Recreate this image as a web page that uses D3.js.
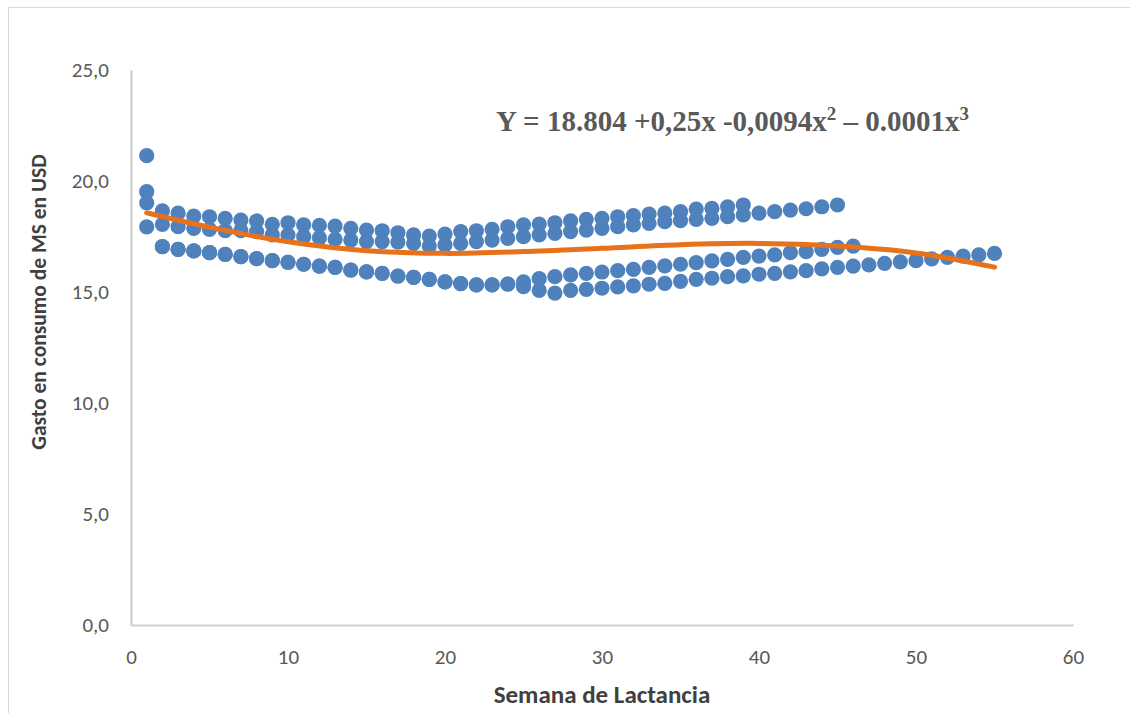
<!DOCTYPE html>
<html>
<head>
<meta charset="utf-8">
<script src="https://cdn.jsdelivr.net/npm/d3@7/dist/d3.min.js"></script>
<style>
  html, body { margin: 0; padding: 0; background: #fff; }
  svg { display: block; }
</style>
</head>
<body>
<svg id="chart" width="1130" height="713"></svg>
<script>
// ---- Data ----
const semanas = [1,2,3,4,5,6,7,8,9,10,11,12,13,14,15,16,17,18,19,20,21,22,23,24,25,26,27,28,29,30,31,32,33,34,35,36,37,38,39,40,41,42,43,44,45,46,47,48,49,50,51,52,53,54,55];

const serieA = [19.52,18.65,18.55,18.42,18.39,18.32,18.24,18.20,18.05,18.12,18.02,18.00,17.97,17.87,17.79,17.76,17.67,17.57,17.52,17.61,17.72,17.76,17.82,17.94,18.02,18.06,18.12,18.20,18.27,18.32,18.39,18.44,18.51,18.55,18.62,18.73,18.77,18.84,18.92];

const serieB = [19.02,18.05,17.94,17.87,17.82,17.76,17.76,17.72,17.57,17.57,17.49,17.44,17.37,17.34,17.27,17.27,17.25,17.19,17.07,17.12,17.19,17.27,17.34,17.42,17.49,17.57,17.64,17.72,17.79,17.87,17.94,18.02,18.09,18.17,18.21,18.27,18.32,18.39,18.47,18.55,18.62,18.69,18.75,18.84,18.92];

const serieC = [21.14,17.04,16.92,16.85,16.77,16.70,16.59,16.50,16.41,16.34,16.25,16.17,16.11,15.99,15.91,15.84,15.72,15.66,15.57,15.46,15.38,15.32,15.32,15.36,15.46,15.60,15.69,15.77,15.84,15.90,15.96,16.02,16.11,16.18,16.25,16.32,16.40,16.47,16.56,16.62,16.67,16.77,16.82,16.92,17.01,17.07];

const serieD = [17.93,17.04,16.92,16.85,16.77,16.70,16.59,16.50,16.41,16.34,16.25,16.17,16.11,15.99,15.91,15.84,15.72,15.66,15.57,15.46,15.38,15.32,15.32,15.36,15.24,15.07,14.95,15.07,15.12,15.17,15.23,15.28,15.35,15.39,15.48,15.57,15.62,15.69,15.73,15.80,15.84,15.91,15.96,16.04,16.11,16.17,16.22,16.29,16.36,16.41,16.49,16.56,16.62,16.67,16.74];

// Polynomial trend line as drawn in the picture (sampled points)
const tendenciaSemanas = [1,5,10,15,20,25,30,35,40,45,50,55];
const tendenciaValores = [18.57,17.92,17.26,16.86,16.74,16.82,16.97,17.13,17.19,17.07,16.76,16.12];

const xTicks = [0,10,20,30,40,50,60];
const yTicks = [0,5,10,15,20,25];

const tituloX = "Semana de Lactancia";
const tituloY = "Gasto en consumo de MS en USD";

// ---- Chart ----
const svg = d3.select("#chart");
const x = d3.scaleLinear().domain([0, 60]).range([131, 1073]);
const y = d3.scaleLinear().domain([0, 25]).range([625, 70]);

// outer chart border
svg.append("rect")
  .attr("x", 8.5).attr("y", 7.5)
  .attr("width", 1140).attr("height", 720)
  .attr("fill", "none").attr("stroke", "#D9D9D9").attr("stroke-width", 1);

const fmt = d => d3.format(".1f")(d).replace(".", ",");
const tickFont = "Carlito, Lato, 'Liberation Sans', sans-serif";

// Y axis
const gy = svg.append("g")
  .attr("transform", "translate(131,0)")
  .call(d3.axisLeft(y).tickValues(yTicks).tickFormat(fmt).tickSize(0).tickPadding(22));
gy.select(".domain").attr("stroke", "#C8C8C8").attr("stroke-width", 2);
gy.selectAll("text").attr("fill", "#595959").style("font-family", tickFont).style("font-size", "21px");

// X axis
const gx = svg.append("g")
  .attr("transform", "translate(0,625)")
  .call(d3.axisBottom(x).tickValues(xTicks).tickFormat(d3.format("d")).tickSize(0).tickPadding(24));
gx.select(".domain").attr("stroke", "#D0D0D0").attr("stroke-width", 2);
gx.selectAll("text").attr("fill", "#595959").style("font-family", tickFont).style("font-size", "21px");

// points
const series = [serieA, serieB, serieC, serieD];
const puntos = [];
series.forEach(s => s.forEach((v, i) => puntos.push({ w: semanas[i], v })));

svg.append("g").selectAll("circle")
  .data(puntos)
  .join("circle")
  .attr("cx", d => x(d.w))
  .attr("cy", d => y(d.v))
  .attr("r", 7.6)
  .attr("fill", "#4F81BD");

// trend line
const linea = d3.line()
  .x((d, i) => x(tendenciaSemanas[i]))
  .y(d => y(d))
  .curve(d3.curveCatmullRom.alpha(0.5));

svg.append("path")
  .datum(tendenciaValores)
  .attr("d", linea)
  .attr("fill", "none")
  .attr("stroke", "#E8721C")
  .attr("stroke-width", 5)
  .attr("stroke-linecap", "round");

// equation
const eq = svg.append("text")
  .attr("x", 496).attr("y", 131)
  .attr("fill", "#595959")
  .style("font-family", "'Liberation Serif', 'Times New Roman', serif")
  .style("font-weight", "bold")
  .style("font-size", "29px");
eq.append("tspan").text("Y = 18.804 +0,25x -0,0094x");
eq.append("tspan").attr("dy", -11).style("font-size", "19px").text("2");
eq.append("tspan").attr("dy", 11).text(" – 0.0001x");
eq.append("tspan").attr("dy", -11).style("font-size", "19px").text("3");

// axis titles
svg.append("text")
  .attr("x", 602).attr("y", 703)
  .attr("text-anchor", "middle")
  .attr("fill", "#404040")
  .style("font-family", tickFont)
  .style("font-weight", "bold")
  .style("font-size", "25px")
  .text(tituloX);

svg.append("text")
  .attr("transform", "translate(46,302) rotate(-90)")
  .attr("text-anchor", "middle")
  .attr("fill", "#404040")
  .style("font-family", tickFont)
  .style("font-weight", "bold")
  .style("font-size", "21.5px")
  .text(tituloY);
</script>
</body>
</html>
